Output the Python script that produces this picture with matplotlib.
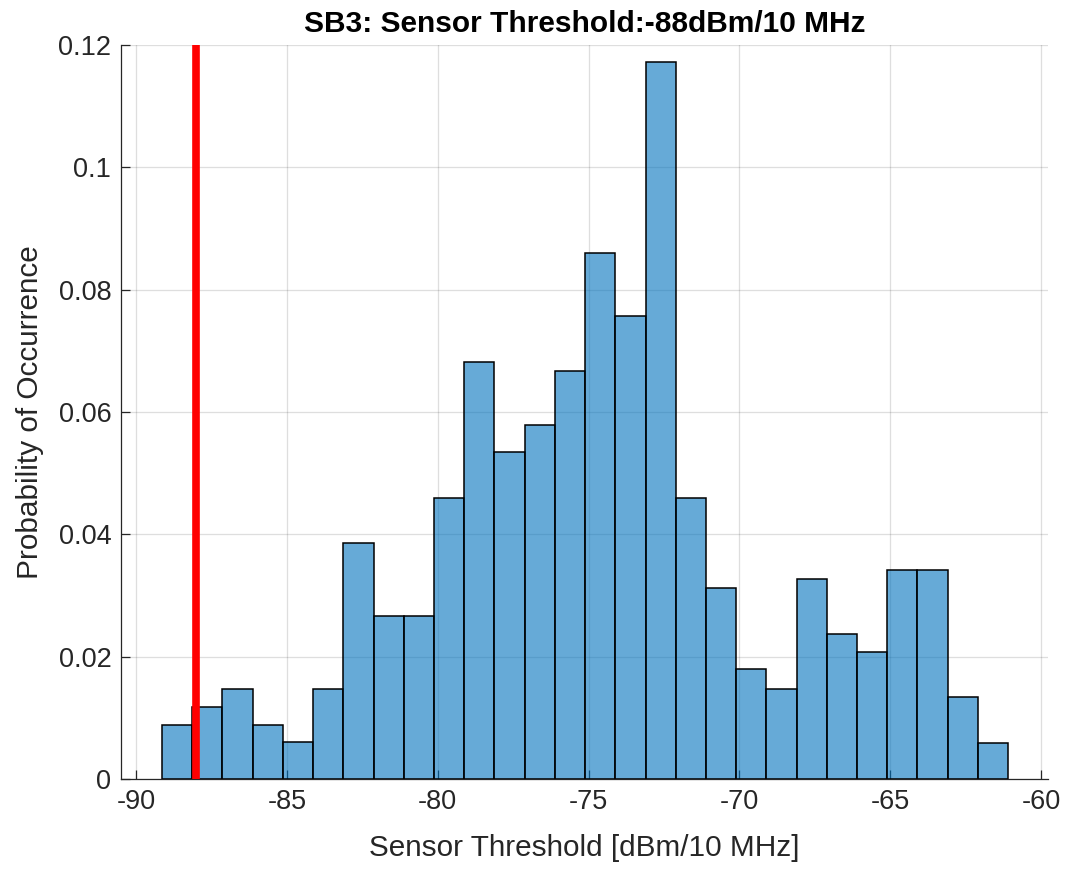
import numpy as np
import matplotlib
matplotlib.use("Agg")
import matplotlib.pyplot as plt
from matplotlib.ticker import FormatStrFormatter

plt.rcParams['font.family'] = ['Liberation Sans', 'DejaVu Sans']
plt.rcParams['axes.unicode_minus'] = False

# Histogram data
bin_start = -89.14
bin_width = 1.0017
prob = [0.0089, 0.0118, 0.0147, 0.0089, 0.0060, 0.0147, 0.0385, 0.0266,
        0.0266, 0.0460, 0.0682, 0.0534, 0.0579, 0.0667, 0.0860, 0.0757,
        0.1172, 0.0460, 0.0312, 0.0179, 0.0147, 0.0327, 0.0237, 0.0208,
        0.0341, 0.0341, 0.0134, 0.0059]
threshold = -88
x_ticks = [-90, -85, -80, -75, -70, -65, -60]
y_ticks = [0, 0.02, 0.04, 0.06, 0.08, 0.1, 0.12]

edges = bin_start + bin_width * np.arange(len(prob))

fig = plt.figure(figsize=(10.67, 8.73), dpi=100)
ax = fig.add_axes([0.1134, 0.1077, 0.8688, 0.8408])

ax.bar(edges, prob, width=bin_width, align='edge',
       color=(0, 0.447, 0.741, 0.6), edgecolor='black', linewidth=1.1, zorder=2)
ax.axvline(threshold, color='red', linewidth=5.5, zorder=3)

ax.set_xlim(-90.5, -59.77)
ax.set_ylim(0, 0.12)
ax.set_xticks(x_ticks)
ax.set_yticks(y_ticks)
ax.yaxis.set_major_formatter(FormatStrFormatter('%g'))

ax.grid(True, color='#262626', alpha=0.15, linewidth=0.9, zorder=0)
ax.set_axisbelow(True)

for s in ['top', 'right']:
    ax.spines[s].set_visible(False)
for s in ['left', 'bottom']:
    ax.spines[s].set_color('#262626')
    ax.spines[s].set_linewidth(0.9)

ax.tick_params(direction='in', length=6.5, width=0.9, colors='#262626',
               labelsize=19.5, pad=7)

ax.set_xlabel('Sensor Threshold [dBm/10 MHz]', fontsize=21.4, color='#262626', labelpad=14)
ax.set_ylabel('Probability of Occurrence', fontsize=21.4, color='#262626', labelpad=10)
ax.set_title('SB3: Sensor Threshold:-88dBm/10 MHz', fontsize=21.5, fontweight='bold', pad=9)

fig.savefig('out.png', dpi=100)
